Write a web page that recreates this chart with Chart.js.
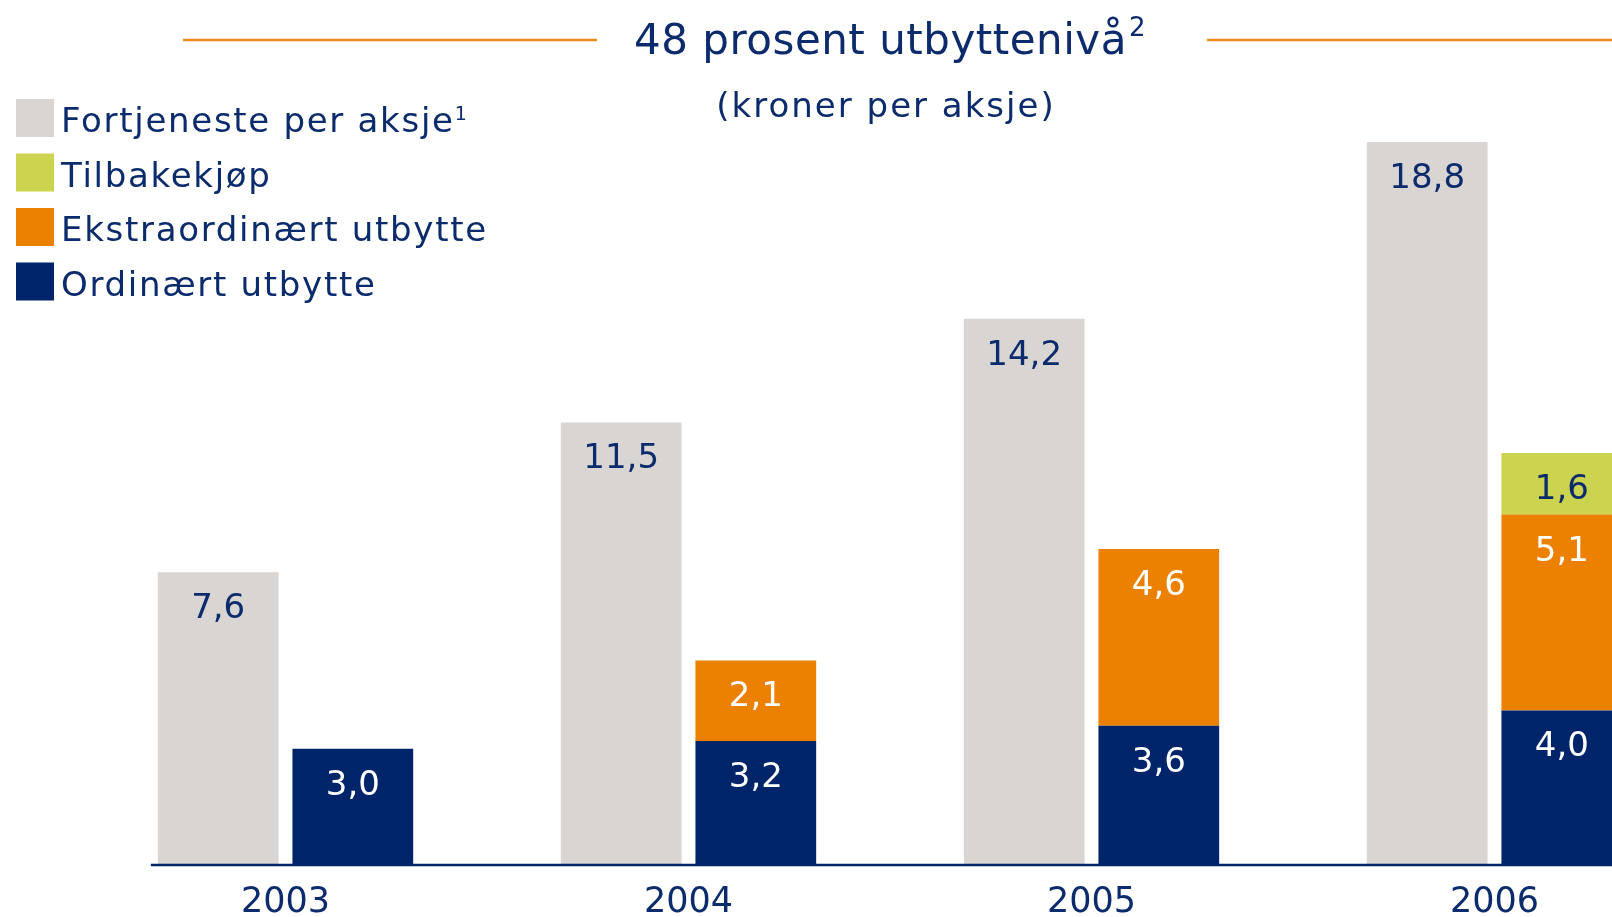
<!DOCTYPE html>
<html>
<head>
<meta charset="utf-8">
<script src="https://cdn.jsdelivr.net/npm/chart.js@4"></script>
<style>
  html, body { margin: 0; padding: 0; overflow: hidden; background: #fff; }
  #wrap { width: 1720px; height: 946px; position: relative; }
</style>
</head>
<body>
<div id="wrap"><canvas id="chart_utbytte"></canvas></div>
<script>
var years = ['2003', '2004', '2005', '2006'];
var fortjeneste = [7.6, 11.5, 14.2, 18.8];
var ordinaert = [3.0, 3.2, 3.6, 4.0];
var ekstraordinaert = [null, 2.1, 4.6, 5.1];
var tilbakekjop = [null, null, null, 1.6];

var titleText = '48 prosent utbyttenivå';
var titleSup = '2';
var subtitleText = '(kroner per aksje)';

var NAVY = '#00246a';
var TEXT_NAVY = '#0c2b6c';
var GREY = '#d9d5d2';
var GREEN = '#ccd34e';
var ORANGE = '#ec8000';
var FONT = '"DejaVu Sans", Verdana, sans-serif';

// legend order as in the picture, with superscript marks
var legendOrder = [0, 3, 2, 1];
var legendSup = { 0: '1' };

function fmt(v) {
    return v.toFixed(1).replace('.', ',');
}

var chart_utbytte = new Chart(document.getElementById('chart_utbytte'), {
    type: 'bar',
    data: {
        labels: years,
        datasets: [
            { label: 'Fortjeneste per aksje', data: fortjeneste, backgroundColor: GREY, stack: 'eps', labelColor: TEXT_NAVY },
            { label: 'Ordinært utbytte', data: ordinaert, backgroundColor: NAVY, stack: 'div', labelColor: '#ffffff' },
            { label: 'Ekstraordinært utbytte', data: ekstraordinaert, backgroundColor: ORANGE, stack: 'div', labelColor: '#ffffff' },
            { label: 'Tilbakekjøp', data: tilbakekjop, backgroundColor: GREEN, stack: 'div', labelColor: TEXT_NAVY }
        ]
    },
    options: {
        animation: false,
        responsive: true,
        maintainAspectRatio: false,
        categoryPercentage: 0.668,
        barPercentage: 0.897,
        layout: { padding: { left: 84, right: 24, top: 96, bottom: 4 } },
        plugins: {
            legend: { display: false },
            title: { display: false },
            tooltip: { enabled: false }
        },
        scales: {
            x: {
                stacked: true,
                grid: { display: false, drawTicks: false },
                border: { display: false },
                ticks: {
                    color: TEXT_NAVY,
                    padding: 18,
                    font: { family: FONT, size: 35 }
                }
            },
            y: {
                stacked: true,
                min: 0,
                max: 20,
                display: false
            }
        }
    },
    plugins: [{
        id: 'customPlugin',
        beforeDraw: (chart) => {
            const ctx = chart.ctx;
            ctx.save();
            ctx.globalCompositeOperation = 'destination-over';
            ctx.fillStyle = 'white';
            ctx.fillRect(0, 0, chart.width, chart.height);
            ctx.restore();
        },
        afterDatasetsDraw: (chart) => {
            const ctx = chart.ctx;
            const area = chart.chartArea;
            ctx.save();
            // value labels near the top of each segment
            ctx.font = '34px ' + FONT;
            ctx.textAlign = 'center';
            ctx.textBaseline = 'alphabetic';
            chart.data.datasets.forEach((ds, i) => {
                const meta = chart.getDatasetMeta(i);
                meta.data.forEach((bar, j) => {
                    const v = ds.data[j];
                    if (v == null) return;
                    ctx.fillStyle = ds.labelColor;
                    ctx.fillText(fmt(v), bar.x, bar.y + 46);
                });
            });
            // base line
            const first = chart.getDatasetMeta(0).data[0];
            ctx.strokeStyle = NAVY;
            ctx.lineWidth = 2.5;
            ctx.beginPath();
            ctx.moveTo(first.x - first.width / 2 - 7, area.bottom + 1);
            ctx.lineTo(chart.width, area.bottom + 1);
            ctx.stroke();
            ctx.restore();
        },
        afterDraw: (chart) => {
            const ctx = chart.ctx;
            const area = chart.chartArea;
            const cx = (area.left + area.right) / 2;
            ctx.save();
            ctx.fillStyle = TEXT_NAVY;
            ctx.textBaseline = 'alphabetic';
            ctx.textAlign = 'left';

            // title with superscript
            ctx.font = '42px ' + FONT;
            ctx.letterSpacing = '0.5px';
            const tw = ctx.measureText(titleText).width;
            ctx.font = '26px ' + FONT;
            const sw = ctx.measureText(titleSup).width;
            const tx = cx - (tw + sw + 2) / 2;
            ctx.font = '42px ' + FONT;
            ctx.fillText(titleText, tx, 54);
            ctx.font = '26px ' + FONT;
            ctx.fillText(titleSup, tx + tw + 2, 36);

            // orange rules either side of the title
            ctx.strokeStyle = '#ee8a1f';
            ctx.lineWidth = 2.5;
            ctx.beginPath();
            ctx.moveTo(183, 40);
            ctx.lineTo(tx - 37, 40);
            ctx.moveTo(tx + tw + sw + 63, 40);
            ctx.lineTo(chart.width, 40);
            ctx.stroke();

            // subtitle
            ctx.font = '34px ' + FONT;
            ctx.letterSpacing = '2px';
            ctx.textAlign = 'center';
            ctx.fillText(subtitleText, cx - 4, 117);

            // legend
            ctx.textAlign = 'left';
            legendOrder.forEach((di, k) => {
                const ds = chart.data.datasets[di];
                const top = 99 + k * 54.5;
                ctx.fillStyle = ds.backgroundColor;
                ctx.fillRect(16, top, 38, 38);
                ctx.fillStyle = TEXT_NAVY;
                ctx.font = '34px ' + FONT;
                ctx.letterSpacing = '1.7px';
                ctx.fillText(ds.label, 61, top + 33);
                if (legendSup[di]) {
                    const w = ctx.measureText(ds.label).width;
                    ctx.font = '19px ' + FONT;
                    ctx.letterSpacing = '0px';
                    ctx.fillText(legendSup[di], 61 + w, top + 21);
                }
            });
            ctx.restore();
        }
    }]
});
</script>
</body>
</html>
